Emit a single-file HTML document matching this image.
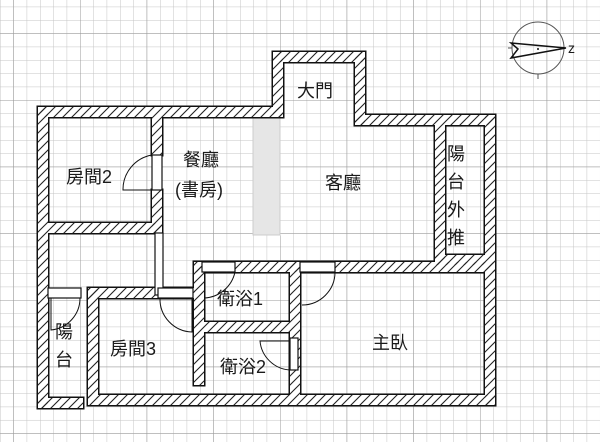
<!DOCTYPE html>
<html><head><meta charset="utf-8"><style>
html,body{margin:0;padding:0;background:#fff}
svg{display:block}
text{font-family:"Liberation Sans","Noto Sans CJK TC",sans-serif;fill:#1a1a1a}
</style></head><body>
<svg width="600" height="442" viewBox="0 0 600 442" xmlns="http://www.w3.org/2000/svg">
<defs>
<pattern id="g" width="13.333" height="13.333" patternUnits="userSpaceOnUse" x="0" y="6.667">
<path d="M0 0H13.333M0 0V13.333" stroke="#c4c4c4" stroke-width="1" fill="none"/>
</pattern>
<pattern id="G" width="66.667" height="66.667" patternUnits="userSpaceOnUse" x="13.333" y="33.333">
<path d="M0 0H66.667M0 0V66.667" stroke="#999" stroke-width="1" fill="none"/>
</pattern>
<pattern id="h" width="9" height="9" patternUnits="userSpaceOnUse">
<path d="M-2 11L11 -2M-2 2L2 -2M7 11L11 7" stroke="#222" stroke-width="1.1"/>
</pattern>
<g id="walls">
<rect x="38" y="107" width="10" height="301"/>
<rect x="38" y="107" width="245" height="10"/>
<rect x="273" y="52" width="10" height="65"/>
<rect x="273" y="52" width="92" height="10"/>
<rect x="355" y="52" width="10" height="73"/>
<rect x="355" y="115" width="140" height="10"/>
<rect x="485" y="115" width="10" height="290"/>
<rect x="88" y="395" width="407" height="10"/>
<rect x="38" y="398" width="45" height="10"/>
<rect x="152" y="117" width="10" height="38"/>
<rect x="152" y="190" width="10" height="43"/>
<rect x="48" y="223" width="114" height="10"/>
<rect x="88" y="288" width="107" height="10"/>
<rect x="88" y="288" width="10" height="110"/>
<rect x="194" y="265" width="10" height="120"/>
<rect x="194" y="262" width="301" height="10"/>
<rect x="290" y="262" width="10" height="133"/>
<rect x="204" y="322" width="86" height="10"/>
<rect x="435" y="125" width="10" height="140"/>
<rect x="435" y="255" width="50" height="10"/>
</g>
</defs>
<rect width="600" height="442" fill="url(#g)"/>
<rect width="600" height="442" fill="url(#G)"/>
<rect x="253" y="117" width="27" height="118" fill="#e6e6e6" stroke="#ccc"/>
<use href="#walls" fill="none" stroke="#111" stroke-width="3"/>
<use href="#walls" fill="#fff" stroke="none"/>
<use href="#walls" fill="url(#h)" stroke="none"/>
<g fill="#fff" stroke="#111" stroke-width="1.2">
<rect x="152" y="155" width="10" height="35"/>
<rect x="155" y="233" width="8" height="62"/>
<rect x="48" y="288" width="33" height="10"/>
<rect x="158" y="288" width="35" height="10"/>
<rect x="202" y="262" width="33" height="10"/>
<rect x="300" y="262" width="35" height="10"/>
<rect x="290" y="338" width="8" height="32"/>
</g>
<g fill="none" stroke="#111" stroke-width="1">
<path d="M152 155A35 35 0 0 0 123 190H152"/>
<path d="M51 298V330A32 32 0 0 0 80 298"/>
<path d="M160 298A33 33 0 0 0 192 332V298"/>
<path d="M204 298A33 33 0 0 0 235 272"/>
<path d="M302 305A33 33 0 0 0 335 272"/>
<path d="M290 341H260A32 32 0 0 0 290 370"/>
</g>
<g stroke="#555" fill="none" stroke-width="1">
<circle cx="538" cy="48" r="26"/>
<path d="M512 48H508M538 74V79"/>
<path d="M511 43L566 48L511 58L518 49Z" stroke="#111" stroke-width="1.5"/>
</g>
<circle cx="538" cy="49" r="1" fill="#111"/>
<text x="568" y="53" font-size="14">z</text>
<g font-size="18">
<text x="297" y="97">大門</text>
<text x="66" y="183">房間2</text>
<text x="183" y="166">餐廳</text>
<text x="175" y="196">(書房)</text>
<text x="325" y="189">客廳</text>
<text x="447" y="160">陽</text>
<text x="447" y="188">台</text>
<text x="447" y="216">外</text>
<text x="447" y="244">推</text>
<text x="217" y="305">衛浴1</text>
<text x="220" y="373">衛浴2</text>
<text x="110" y="355">房間3</text>
<text x="372" y="349">主臥</text>
<text x="55" y="338">陽</text>
<text x="55" y="366">台</text>
</g>
</svg>
</body></html>
